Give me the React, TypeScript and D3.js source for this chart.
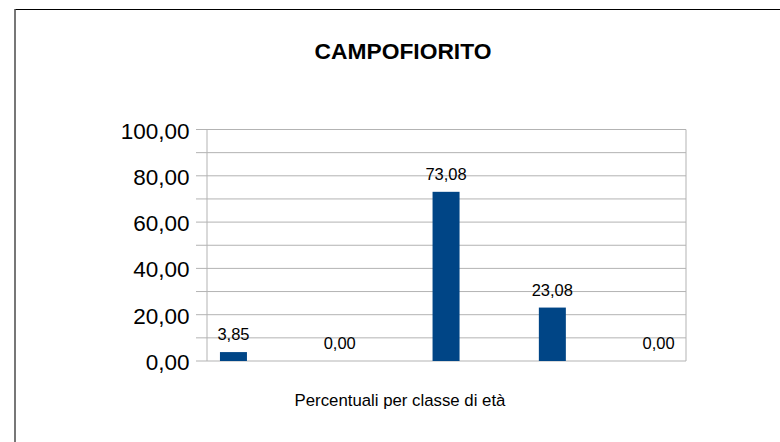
import React from "react";
import * as d3 from "d3";

const categories = ["Classe 1", "Classe 2", "Classe 3", "Classe 4", "Classe 5"];
const values = [3.85, 0.0, 73.08, 23.08, 0.0];
const majorTicks = [0, 20, 40, 60, 80, 100];
const minorTicks = [10, 30, 50, 70, 90];
const title = "CAMPOFIORITO";
const xTitle = "Percentuali per classe di età";

const W = 780;
const H = 442;
const plot = { left: 207, right: 686, top: 129.5, bottom: 361 };

const fmt = (v: number) => v.toFixed(2).replace(".", ",");

export default function App() {
  const y = d3.scaleLinear().domain([0, 100]).range([plot.bottom, plot.top]);
  const x = d3
    .scaleBand<string>()
    .domain(categories)
    .range([180.3, 711.8])
    .padding(0);
  const barW = 27;
  const grid = [...majorTicks, ...minorTicks];
  return (
    <svg
      width={W}
      height={H}
      style={{ position: "absolute", left: 0, top: 0, display: "block", background: "#fff" }}
      fontFamily="'Liberation Sans', Arial, sans-serif"
    >
      <rect x={0} y={0} width={W} height={H} fill="#fff" />
      {/* frame */}
      <line x1={15} x2={W} y1={9.5} y2={9.5} stroke="#000" strokeWidth={1} />
      <line x1={15} x2={15} y1={9} y2={H} stroke="#555" strokeWidth={1.6} />
      <text x={403} y={58.5} textAnchor="middle" fontSize={22.8} fontWeight="bold" fill="#000">
        {title}
      </text>
      {/* gridlines + ticks */}
      {grid.map((t) => (
        <line
          key={"g" + t}
          x1={196}
          x2={plot.right}
          y1={y(t)}
          y2={y(t)}
          stroke="#b3b3b3"
          strokeWidth={1}
        />
      ))}
      <line x1={plot.left} x2={plot.left} y1={plot.top} y2={plot.bottom} stroke="#b3b3b3" />
      <line x1={plot.right} x2={plot.right} y1={plot.top} y2={plot.bottom} stroke="#b3b3b3" />
      {majorTicks.map((t) => (
        <text
          key={"l" + t}
          x={189.5}
          y={y(t) + 9}
          textAnchor="end"
          fontSize={22.5}
          fill="#000"
        >
          {fmt(t)}
        </text>
      ))}
      {categories.map((c, i) => {
        const cx = (x(c) as number) + x.bandwidth() / 2;
        return (
          <g key={c}>
            <rect
              x={cx - barW / 2}
              y={y(values[i])}
              width={barW}
              height={plot.bottom - y(values[i])}
              fill="#004586"
            />
            <text
              x={cx}
              y={y(values[i]) - 12}
              textAnchor="middle"
              fontSize={16.5}
              fill="#000"
            >
              {fmt(values[i])}
            </text>
          </g>
        );
      })}
      <text x={400} y={406} textAnchor="middle" fontSize={16.8} fill="#000">
        {xTitle}
      </text>
    </svg>
  );
}
